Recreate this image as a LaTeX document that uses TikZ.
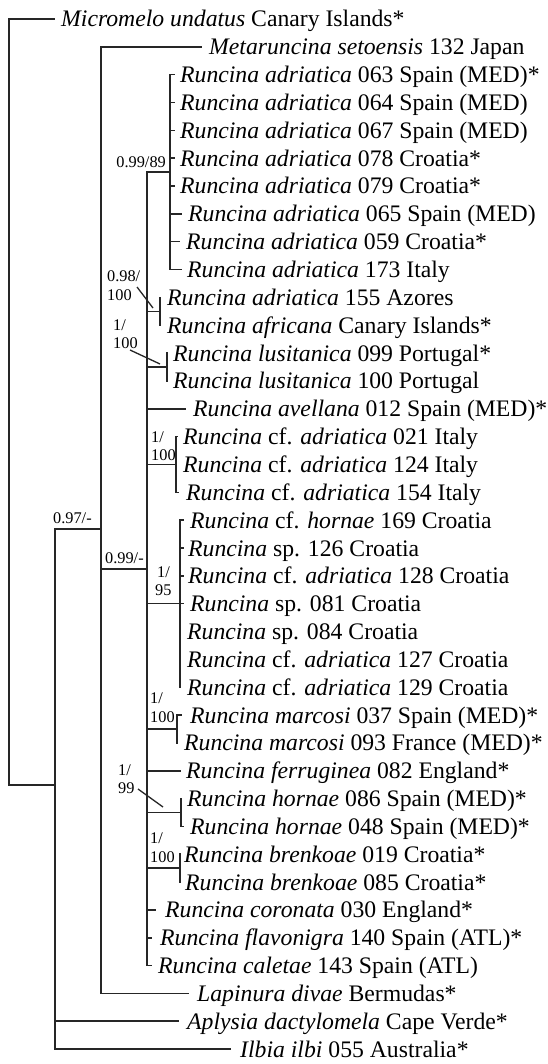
\documentclass[tikz,border=0pt]{standalone}
\usepackage{fontspec}
\setmainfont{Liberation Serif}
% one terminal taxon: tip coordinate, its name node, and the branch from its parent
% #1 name, #2 parent, #3 row y, #4 tip x, #5 text x, #6 label
\newcommand\taxonleaf[6]{%
  \coordinate (#1) at (#4,#3);
  \node[taxon] (#1t) at (#5,#3+8) {#6};
  \draw[treeline] (#2 |- #1) -- (#1);}
\newcommand\Ru{\textit{Runcina}}
\begin{document}
\begin{tikzpicture}[x=1pt,y=-1pt,
  treeline/.style={draw=black!85, line width=1.6pt, line cap=rect},
  taxon/.style={anchor=base west, inner sep=0pt, font=\fontsize{23.7}{28}\selectfont},
  support/.style={inner sep=0pt, font=\fontsize{16.3}{19}\selectfont},
  labelline/.style={draw=black!85, line width=1.3pt}]
\useasboundingbox (0,0) rectangle (548,1064);

% internal nodes: (x of the vertical bar, y where the parent branch joins)
\coordinate (R) at (9,402);
\coordinate (A) at (55,785);
\coordinate (B) at (101,529);
\coordinate (C) at (147,569);
\coordinate (D) at (170,172);
\coordinate (E) at (160,311.3);
\coordinate (F) at (167,367);
\coordinate (G) at (176,464.4);
\coordinate (H) at (180,603.6);
\coordinate (I) at (177,729);
\coordinate (J) at (181,812.5);
\coordinate (K) at (180,868);

% terminal taxa
\taxonleaf{l0}{R}{19.0}{54}{61}{\textit{Micromelo undatus} Canary Islands*}
\taxonleaf{l1}{B}{46.8}{201}{209}{\textit{Metaruncina setoensis} 132 Japan}
\taxonleaf{l2}{D}{74.7}{174}{180}{\Ru{} \textit{adriatica} 063 Spain (MED)*}
\taxonleaf{l3}{D}{102.5}{174}{180}{\Ru{} \textit{adriatica} 064 Spain (MED)}
\taxonleaf{l4}{D}{130.4}{174}{180}{\Ru{} \textit{adriatica} 067 Spain (MED)}
\taxonleaf{l5}{D}{158.2}{174}{180}{\Ru{} \textit{adriatica} 078 Croatia*}
\taxonleaf{l6}{D}{186.0}{174}{180}{\Ru{} \textit{adriatica} 079 Croatia*}
\taxonleaf{l7}{D}{213.9}{181}{188}{\Ru{} \textit{adriatica} 065 Spain (MED)}
\taxonleaf{l8}{D}{241.7}{179}{186}{\Ru{} \textit{adriatica} 059 Croatia*}
\taxonleaf{l9}{D}{269.6}{181}{187}{\Ru{} \textit{adriatica} 173 Italy}
\taxonleaf{l10}{E}{297.4}{160}{167}{\Ru{} \textit{adriatica} 155 Azores}
\taxonleaf{l11}{E}{325.2}{160}{167}{\Ru{} \textit{africana} Canary Islands*}
\taxonleaf{l12}{F}{353.1}{167}{173}{\Ru{} \textit{lusitanica} 099 Portugal*}
\taxonleaf{l13}{F}{380.9}{167}{173}{\Ru{} \textit{lusitanica} 100 Portugal}
\taxonleaf{l14}{C}{408.8}{185}{193}{\Ru{} \textit{avellana} 012 Spain (MED)*}
\taxonleaf{l15}{G}{436.6}{177}{183}{\Ru{} cf. \textit{adriatica} 021 Italy}
\taxonleaf{l16}{G}{464.4}{176}{183}{\Ru{} cf. \textit{adriatica} 124 Italy}
\taxonleaf{l17}{G}{492.3}{178}{186}{\Ru{} cf. \textit{adriatica} 154 Italy}
\taxonleaf{l18}{H}{520.1}{183}{190}{\Ru{} cf. \textit{hornae} 169 Croatia}
\taxonleaf{l19}{H}{548.0}{183}{188}{\Ru{} sp. 126 Croatia}
\taxonleaf{l20}{H}{575.8}{183}{188}{\Ru{} cf. \textit{adriatica} 128 Croatia}
\taxonleaf{l21}{H}{603.6}{183}{190}{\Ru{} sp. 081 Croatia}
\taxonleaf{l22}{H}{631.5}{180}{187}{\Ru{} sp. 084 Croatia}
\taxonleaf{l23}{H}{659.3}{180}{187}{\Ru{} cf. \textit{adriatica} 127 Croatia}
\taxonleaf{l24}{H}{687.2}{180}{187}{\Ru{} cf. \textit{adriatica} 129 Croatia}
\taxonleaf{l25}{I}{715.0}{181}{190}{\Ru{} \textit{marcosi} 037 Spain (MED)*}
\taxonleaf{l26}{I}{742.8}{177}{184}{\Ru{} \textit{marcosi} 093 France (MED)*}
\taxonleaf{l27}{C}{770.7}{180}{186}{\Ru{} \textit{ferruginea} 082 England*}
\taxonleaf{l28}{J}{798.5}{181}{187}{\Ru{} \textit{hornae} 086 Spain (MED)*}
\taxonleaf{l29}{J}{826.4}{183}{190}{\Ru{} \textit{hornae} 048 Spain (MED)*}
\taxonleaf{l30}{K}{854.2}{180}{184}{\Ru{} \textit{brenkoae} 019 Croatia*}
\taxonleaf{l31}{K}{882.0}{180}{185}{\Ru{} \textit{brenkoae} 085 Croatia*}
\taxonleaf{l32}{C}{909.9}{155}{165}{\Ru{} \textit{coronata} 030 England*}
\taxonleaf{l33}{C}{937.7}{151}{160}{\Ru{} \textit{flavonigra} 140 Spain (ATL)*}
\taxonleaf{l34}{C}{965.6}{151}{158}{\Ru{} \textit{caletae} 143 Spain (ATL)}
\taxonleaf{l35}{B}{993.4}{188}{197}{\textit{Lapinura divae} Bermudas*}
\taxonleaf{l36}{A}{1021.2}{178}{187}{\textit{Aplysia dactylomela} Cape Verde*}
\taxonleaf{l37}{A}{1049.1}{230}{240}{\textit{Ilbia ilbi} 055 Australia*}

% vertical bars of the internal nodes
\draw[treeline] (R |- l0) -- (R |- A);
\draw[treeline] (A |- B) -- (A |- l37);
\draw[treeline] (B |- l1) -- (B |- l35);
\draw[treeline] (C |- D) -- (C |- l34);
\draw[treeline] (D |- l2) -- (D |- l9);
\draw[treeline] (E |- l10) -- (E |- l11);
\draw[treeline] (F |- l12) -- (F |- l13);
\draw[treeline] (G |- l15) -- (G |- l17);
\draw[treeline] (H |- l18) -- (H |- l24);
\draw[treeline] (I |- l25) -- (I |- l26);
\draw[treeline] (J |- l28) -- (J |- l29);
\draw[treeline] (K |- l30) -- (K |- l31);

% branches joining internal nodes to their parents
\draw[treeline] (R |- A) -- (A);
\draw[treeline] (A |- B) -- (B);
\draw[treeline] (B |- C) -- (C);
\draw[treeline] (C |- D) -- (D);
\draw[treeline] (C |- E) -- (E);
\draw[treeline] (C |- F) -- (F);
\draw[treeline] (C |- G) -- (G);
\draw[treeline] (C |- H) -- (H);
\draw[treeline] (C |- I) -- (I);
\draw[treeline] (C |- J) -- (J);
\draw[treeline] (C |- K) -- (K);

% support values (posterior probability / bootstrap)
\node[support, anchor=base east] (sD) at (166,167.5) {0.99/89};
\node[support, anchor=base west] (sE1) at (107,281.5) {0.98/};
\node[support, anchor=base west] (sE2) at (107,300.5) {100};
\node[support, anchor=base west] (sF1) at (113,330.5) {1/};
\node[support, anchor=base west] (sF2) at (113,348.5) {100};
\node[support, anchor=base west] (sG1) at (151,442.5) {1/};
\node[support, anchor=base west] (sG2) at (151,460.5) {100};
\node[support, anchor=base west] (sA) at (53,523.5) {0.97/-};
\node[support, anchor=base west] (sC) at (105,563.5) {0.99/-};
\node[support, anchor=base west] (sH1) at (157,577.5) {1/};
\node[support, anchor=base west] (sH2) at (155,595.5) {95};
\node[support, anchor=base west] (sI1) at (150,703.5) {1/};
\node[support, anchor=base west] (sI2) at (150,722.5) {100};
\node[support, anchor=base west] (sJ1) at (118,775.5) {1/};
\node[support, anchor=base west] (sJ2) at (118,793.5) {99};
\node[support, anchor=base west] (sK1) at (150,843.5) {1/};
\node[support, anchor=base west] (sK2) at (150,862.5) {100};

% leader lines from detached support values to their nodes
\coordinate (pE0) at (137,287);
\coordinate (pE1) at (153,308);
\coordinate (pF0) at (130,350);
\coordinate (pF1) at (160,364);
\coordinate (pJ0) at (138,789);
\coordinate (pJ1) at (163,807);
\draw[labelline] (pE0) -- (pE1);
\draw[labelline] (pF0) -- (pF1);
\draw[labelline] (pJ0) -- (pJ1);
\end{tikzpicture}
\end{document}
